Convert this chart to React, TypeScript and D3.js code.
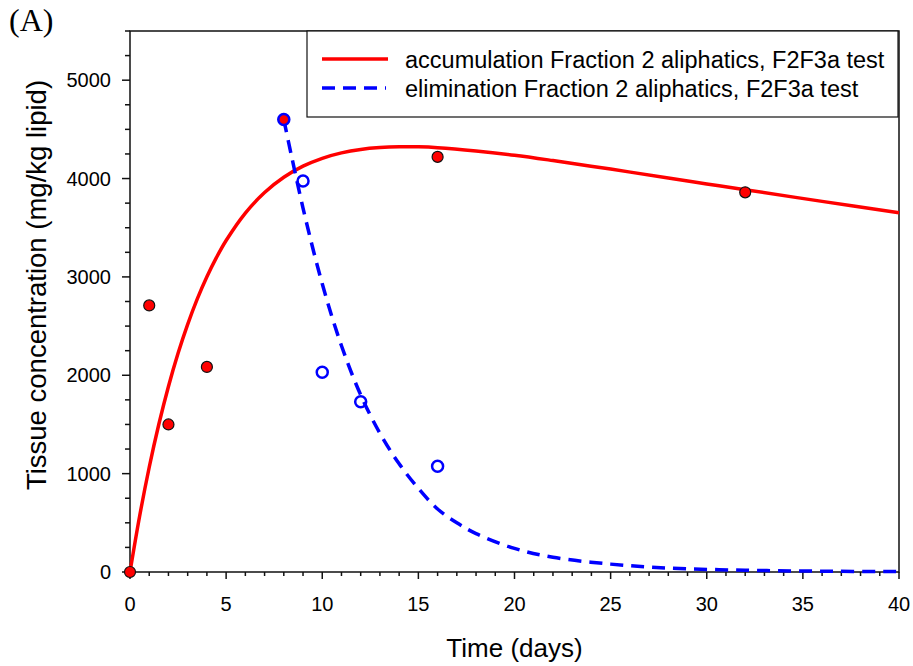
import React, { useEffect, useRef } from 'react';
import * as d3 from 'd3';

// observed tissue concentrations
const accDays = [0, 1, 2, 4, 8, 16, 32];
const accValues = [0, 2710, 1500, 2085, 4600, 4220, 3860];
const elimDays = [8, 9, 10, 12, 16];
const elimValues = [4600, 3975, 2030, 1730, 1075];

// fitted model curves
const accFitDays = [0, 0.5, 1, 1.5, 2, 2.5, 3, 3.5, 4, 4.5, 5, 6, 7, 8, 9, 10, 11, 12, 13, 14, 15, 16, 18, 20, 22, 25, 28, 30, 32, 36, 40];
const accFitValues = [0, 567, 1065, 1502, 1886, 2223, 2517, 2776, 3001, 3198, 3370, 3649, 3858, 4013, 4126, 4206, 4261, 4296, 4315, 4323, 4322, 4314, 4281, 4237, 4183, 4096, 4005, 3945, 3886, 3768, 3653];
const elimFitDays = [8, 9, 10, 11, 12, 13, 14, 15, 16, 17, 18, 20, 22, 25, 28, 32, 36, 40];
const elimFitValues = [4600, 3700, 2930, 2300, 1800, 1410, 1100, 850, 640, 500, 390, 240, 150, 80, 40, 18, 8, 4];

const xTicks = [0, 5, 10, 15, 20, 25, 30, 35, 40];
const yTicks = [0, 1000, 2000, 3000, 4000, 5000];
const legendLabels = [
  'accumulation Fraction 2 aliphatics, F2F3a test',
  'elimination Fraction 2 aliphatics, F2F3a test',
];

const W = 913;
const H = 666;
const sans = 'Liberation Sans, Arial, sans-serif';

export default function App() {
  const ref = useRef<SVGSVGElement>(null);

  useEffect(() => {
    const svg = d3.select(ref.current);
    svg.selectAll('*').remove();

    const left = 130, right = 899, top = 31, bottom = 572;
    const x = d3.scaleLinear().domain([0, 40]).range([left, right]);
    const y = d3.scaleLinear().domain([0, 5500]).range([bottom, top]);

    // panel label
    svg.append('text')
      .attr('x', 9).attr('y', 31)
      .attr('font-family', 'Liberation Serif, DejaVu Serif, serif')
      .attr('font-size', 32)
      .text('(A)');

    // ticks
    const g = svg.append('g').attr('stroke', '#111').attr('stroke-width', 1.5);
    g.selectAll('.xm').data(d3.range(0, 41, 1)).enter().append('line')
      .attr('x1', d => x(d)).attr('x2', d => x(d))
      .attr('y1', bottom).attr('y2', d => bottom + (d % 5 === 0 ? 7 : 4));
    g.selectAll('.ym').data(d3.range(0, 5501, 250)).enter().append('line')
      .attr('y1', d => y(d)).attr('y2', d => y(d))
      .attr('x1', left).attr('x2', d => left - (d % 1000 === 0 ? 8 : 5));

    // frame
    g.append('path')
      .attr('fill', 'none')
      .attr('d', `M${left},${top}H${right}V${bottom}H${left}Z`);

    // tick labels
    svg.append('g').selectAll('text').data(xTicks).enter().append('text')
      .attr('x', d => x(d)).attr('y', 611)
      .attr('text-anchor', 'middle')
      .attr('font-family', sans).attr('font-size', 20)
      .text(d => d);
    svg.append('g').selectAll('text').data(yTicks).enter().append('text')
      .attr('x', 111).attr('y', d => y(d))
      .attr('dy', '0.36em')
      .attr('text-anchor', 'end')
      .attr('font-family', sans).attr('font-size', 20)
      .text(d => d);

    // axis titles
    svg.append('text')
      .attr('x', (left + right) / 2).attr('y', 657)
      .attr('text-anchor', 'middle')
      .attr('font-family', sans).attr('font-size', 26)
      .text('Time (days)');
    svg.append('text')
      .attr('transform', 'translate(46,285) rotate(-90)')
      .attr('text-anchor', 'middle')
      .attr('font-family', sans).attr('font-size', 27.5)
      .text('Tissue concentration (mg/kg lipid)');

    // fitted lines
    const line = d3.line<[number, number]>()
      .x(d => x(d[0])).y(d => y(d[1]))
      .curve(d3.curveCatmullRom.alpha(0.5));
    svg.append('path')
      .datum(accFitDays.map((d, i) => [d, accFitValues[i]] as [number, number]))
      .attr('fill', 'none').attr('stroke', '#ff0000').attr('stroke-width', 3.5)
      .attr('d', line);
    svg.append('path')
      .datum(elimFitDays.map((d, i) => [d, elimFitValues[i]] as [number, number]))
      .attr('fill', 'none').attr('stroke', '#0000ff').attr('stroke-width', 3.5)
      .attr('stroke-dasharray', '13,8')
      .attr('d', line);

    // observed points
    svg.append('g').selectAll('circle').data(accDays).enter().append('circle')
      .attr('cx', d => x(d)).attr('cy', (d, i) => y(accValues[i]))
      .attr('r', 5.5)
      .attr('fill', '#ff0000').attr('stroke', '#111').attr('stroke-width', 1.2);
    svg.append('g').selectAll('circle').data(elimDays).enter().append('circle')
      .attr('cx', d => x(d)).attr('cy', (d, i) => y(elimValues[i]))
      .attr('r', 5.5)
      .attr('fill', 'none').attr('stroke', '#0000ff').attr('stroke-width', 2.5);

    // legend
    const lg = svg.append('g');
    lg.append('rect')
      .attr('x', 307).attr('y', top).attr('width', 591).attr('height', 86)
      .attr('fill', '#fff').attr('stroke', '#111').attr('stroke-width', 1.2);
    lg.append('line')
      .attr('x1', 322).attr('x2', 388).attr('y1', 59).attr('y2', 59)
      .attr('stroke', '#ff0000').attr('stroke-width', 3.5);
    lg.append('line')
      .attr('x1', 322).attr('x2', 386).attr('y1', 88).attr('y2', 88)
      .attr('stroke', '#0000ff').attr('stroke-width', 3.5)
      .attr('stroke-dasharray', '13,8');
    lg.selectAll('text').data(legendLabels).enter().append('text')
      .attr('x', 405).attr('y', (d, i) => 68 + i * 28.5)
      .attr('font-family', sans).attr('font-size', 23.5)
      .text(d => d);
  }, []);

  return (
    <svg
      ref={ref}
      width={W}
      height={H}
      style={{ position: 'absolute', left: 0, top: 0, background: '#fff' }}
    />
  );
}
